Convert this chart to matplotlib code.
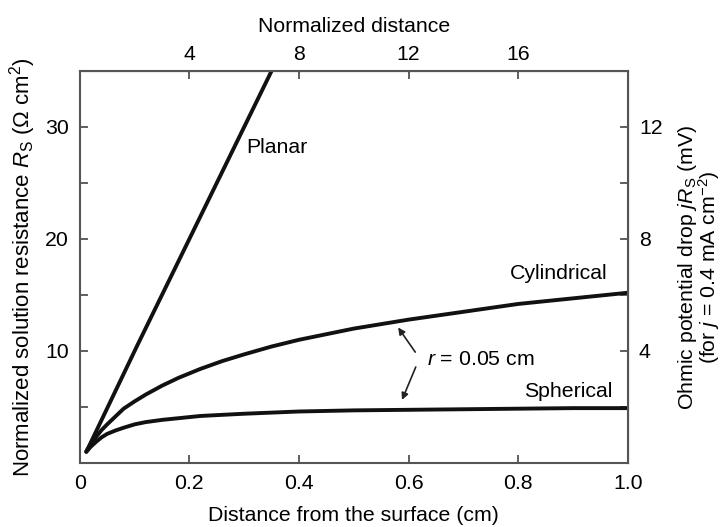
import matplotlib
matplotlib.use("Agg")
import matplotlib.pyplot as plt

plt.rcParams['font.family'] = ['Liberation Sans', 'DejaVu Sans']
plt.rcParams['mathtext.fontset'] = 'custom'
plt.rcParams['mathtext.rm'] = 'Liberation Sans'
plt.rcParams['mathtext.it'] = 'Liberation Sans:italic'

# distance from the surface (cm)
x_planar = [0.012, 0.104, 0.195, 0.301, 0.352]
planar = [1.0, 10.4, 19.5, 30.1, 35.2]

x_curve = [0.012, 0.02, 0.03, 0.04, 0.05, 0.065, 0.08, 0.1, 0.12, 0.15, 0.18, 0.22,
           0.26, 0.3, 0.35, 0.4, 0.45, 0.5, 0.6, 0.7, 0.8, 0.9, 1.0]
cylindrical = [1.05, 1.7, 2.35, 2.95, 3.45, 4.15, 4.85, 5.5, 6.1, 6.9, 7.6, 8.4,
               9.1, 9.7, 10.4, 11.0, 11.5, 12.0, 12.8, 13.5, 14.2, 14.7, 15.2]
spherical = [1.0, 1.45, 1.9, 2.3, 2.6, 2.9, 3.15, 3.45, 3.65, 3.85, 4.0, 4.2,
             4.3, 4.4, 4.5, 4.6, 4.65, 4.7, 4.75, 4.8, 4.85, 4.9, 4.9]

bottom_ticks = [0, 0.2, 0.4, 0.6, 0.8, 1.0]
bottom_labels = ['0', '0.2', '0.4', '0.6', '0.8', '1.0']
top_ticks = [4, 8, 12, 16]
left_ticks = [10, 20, 30]
right_ticks = [4, 8, 12]

fs = 15.3
fig = plt.figure(figsize=(7.25, 5.27), dpi=100)
ax = fig.add_axes([0.110, 0.1214, 0.756, 0.744])

for xs, ys in [(x_planar, planar), (x_curve, cylindrical), (x_curve, spherical)]:
    ax.plot(xs, ys, color='#111111', lw=2.8, solid_capstyle='round', solid_joinstyle='round')

ax.set_xlim(0, 1.0)
ax.set_ylim(0, 35)
ax.set_xticks(bottom_ticks)
ax.set_xticklabels(bottom_labels)
ax.set_yticks(left_ticks)
ax.set_yticks([5, 15, 25], minor=True)
ax.tick_params(which='both', direction='in', length=6, width=1.2, labelsize=fs, color='#444444', pad=8)

for s in ax.spines.values():
    s.set_color('#555555')
    s.set_linewidth(1.5)

ax.set_xlabel('Distance from the surface (cm)', fontsize=fs, labelpad=9)
ax.set_ylabel(r'Normalized solution resistance $R_\mathrm{S}$ ($\Omega$ cm$^2$)', fontsize=fs + 0.7, labelpad=5)

top = ax.secondary_xaxis('top', functions=(lambda v: v * 20, lambda v: v / 20))
top.set_xticks(top_ticks)
top.tick_params(direction='in', length=6, width=1.2, labelsize=fs, color='#444444', pad=5)
top.set_xlabel('Normalized distance', fontsize=fs, labelpad=9)

right = ax.secondary_yaxis('right', functions=(lambda v: v * 0.4, lambda v: v / 0.4))
right.set_yticks(right_ticks)
right.set_yticks([2, 6, 10], minor=True)
right.tick_params(which='both', direction='in', length=6, width=1.2, labelsize=fs, color='#444444', pad=8)
right.set_ylabel('Ohmic potential drop $j R_\\mathrm{S}$ (mV)\n(for $j$ = 0.4 mA cm$^{-2}$)',
                 fontsize=fs, labelpad=10, linespacing=0.85)

ax.text(0.303, 28.2, 'Planar', fontsize=fs, va='center', ha='left')
ax.text(0.963, 16.9, 'Cylindrical', fontsize=fs, va='center', ha='right')
ax.text(0.971, 6.4, 'Spherical', fontsize=fs, va='center', ha='right')
ax.text(0.633, 9.2, r'$r$ = 0.05 cm', fontsize=fs, va='center', ha='left')

arrow = dict(arrowstyle='-|>', color='#222222', lw=1.2, mutation_scale=10)
ax.annotate('', xy=(0.578, 12.3), xytext=(0.615, 9.7), arrowprops=arrow)
ax.annotate('', xy=(0.586, 5.4), xytext=(0.615, 8.8), arrowprops=arrow)

fig.savefig('out.png', dpi=100)
